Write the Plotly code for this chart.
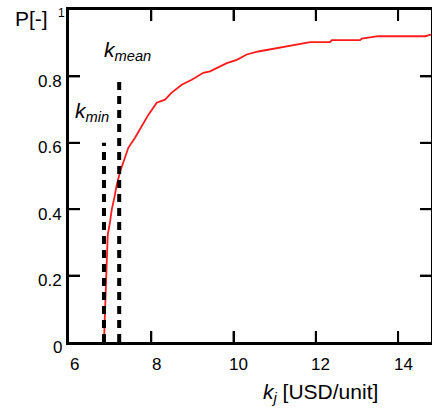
import plotly.graph_objects as go

k_values = [6.85, 6.858, 6.875, 6.917, 6.941, 6.997, 7.038, 7.102, 7.160, 7.240, 7.362,
            7.442, 7.605, 7.768, 7.928, 8.133, 8.334, 8.497, 8.740, 8.984, 9.266,
            9.429, 9.672, 9.835, 10.078, 10.321, 10.603, 10.888, 11.131, 11.294,
            11.537, 11.860, 12.347, 12.388, 13.076, 13.117, 13.521, 14.66, 14.80]
p_values = [0.0, 0.081, 0.090, 0.238, 0.322, 0.361, 0.398, 0.434, 0.473, 0.512, 0.555,
            0.585, 0.615, 0.648, 0.684, 0.721, 0.730, 0.751, 0.775, 0.790, 0.811,
            0.815, 0.830, 0.840, 0.850, 0.866, 0.875, 0.881, 0.886, 0.891,
            0.896, 0.903, 0.903, 0.909, 0.909, 0.914, 0.921, 0.921, 0.926]

k_min = 6.85
k_min_top = 0.6
k_mean = 7.22
k_mean_top = 0.8

x_ticks = [6, 8, 10, 12, 14]
x_tick_text = ["6", "8", "10", "12", "14"]
y_ticks = [0, 0.2, 0.4, 0.6, 0.8]
y_tick_text = ["0", "0.2", "0.4", "0.6", "0.8"]

FONT = "Liberation Sans, Arial, sans-serif"
W, H = 432, 415
ML, MR, MT, MB = 69, 1, 10, 73
PW, PH = W - ML - MR, H - MT - MB
XR = [6, 14.8]
YR = [0, 1]
TICK = 11
tx = TICK / PW * (XR[1] - XR[0])   # tick length in x units
ty = TICK / PH * (YR[1] - YR[0])   # tick length in y units

fig = go.Figure()
fig.add_trace(go.Scatter(x=k_values, y=p_values, mode="lines",
                         line=dict(color="#ff1a1a", width=1.8),
                         showlegend=False, hoverinfo="skip"))
fig.add_trace(go.Scatter(x=[k_min, k_min], y=[0, k_min_top], mode="lines",
                         line=dict(color="black", width=4, dash="8px,6px"),
                         showlegend=False, hoverinfo="skip"))
fig.add_trace(go.Scatter(x=[k_mean, k_mean], y=[0, k_mean_top], mode="lines",
                         line=dict(color="black", width=4, dash="8px,6px"),
                         showlegend=False, hoverinfo="skip"))

# inward tick marks on all four sides, drawn as a line trace at the tick values
tick_x, tick_y = [], []
for xv in x_ticks[1:]:
    tick_x += [xv, xv, None, xv, xv, None]
    tick_y += [YR[0], YR[0] + ty, None, YR[1], YR[1] - ty, None]
for yv in y_ticks[1:]:
    tick_x += [XR[0], XR[0] + tx, None, XR[1], XR[1] - tx, None]
    tick_y += [yv, yv, None, yv, yv, None]
fig.add_trace(go.Scatter(x=tick_x, y=tick_y, mode="lines",
                         line=dict(color="black", width=2),
                         showlegend=False, hoverinfo="skip"))

fig.update_layout(
    width=W, height=H,
    margin=dict(l=ML, r=MR, t=MT, b=MB),
    paper_bgcolor="white", plot_bgcolor="white",
    font=dict(family=FONT, color="black"),
    xaxis=dict(range=XR, tickvals=x_ticks, ticks="inside", ticklen=TICK, tickwidth=2,
               tickcolor="black", showticklabels=False, showline=True, linewidth=2.5,
               linecolor="black", mirror="ticks", showgrid=False, zeroline=False,
               automargin=False),
    yaxis=dict(range=YR, tickvals=y_ticks, ticks="inside", ticklen=TICK, tickwidth=2,
               tickcolor="black", showticklabels=False, showline=True, linewidth=2.5,
               linecolor="black", mirror="ticks", automargin=False, showgrid=False,
               zeroline=False),
)

# tick labels
for xv, txt in zip(x_ticks, x_tick_text):
    fig.add_annotation(text=txt, x=xv, y=0, xref="x", yref="paper", showarrow=False,
                       xanchor="center", yanchor="middle", xshift=5, yshift=-22,
                       font=dict(family=FONT, color="black", size=17))
for yv, txt in zip(y_ticks, y_tick_text):
    fig.add_annotation(text=txt, x=0, y=yv, xref="paper", yref="y", showarrow=False,
                       xanchor="right", yanchor="middle", xshift=-5, yshift=-5,
                       font=dict(family=FONT, color="black", size=17))

ann = [
    dict(text="P[-]", x=-0.1036, y=0.974, size=21),
    dict(text="1", x=-0.0207, y=0.992, size=12),
    dict(text="<i>k</i><sub><i>min</i></sub>", x=0.011, y=0.693, xanchor="left", size=21),
    dict(text="<i>k</i><sub><i>mean</i></sub>", x=0.0912, y=0.878, xanchor="left", size=21),
    dict(text="<i>k</i><sub><i>j</i></sub> [USD/unit]", x=0.696, y=-0.155, size=21),
]
for a in ann:
    fig.add_annotation(text=a["text"], x=a["x"], y=a["y"], xref="paper", yref="paper",
                       showarrow=False, xanchor=a.get("xanchor", "center"),
                       yanchor="middle",
                       font=dict(family=FONT, color="black", size=a["size"]))

fig.write_html("out.html", config={"displayModeBar": False},
               post_script="document.body.style.margin='0';document.body.style.overflow='hidden';")
